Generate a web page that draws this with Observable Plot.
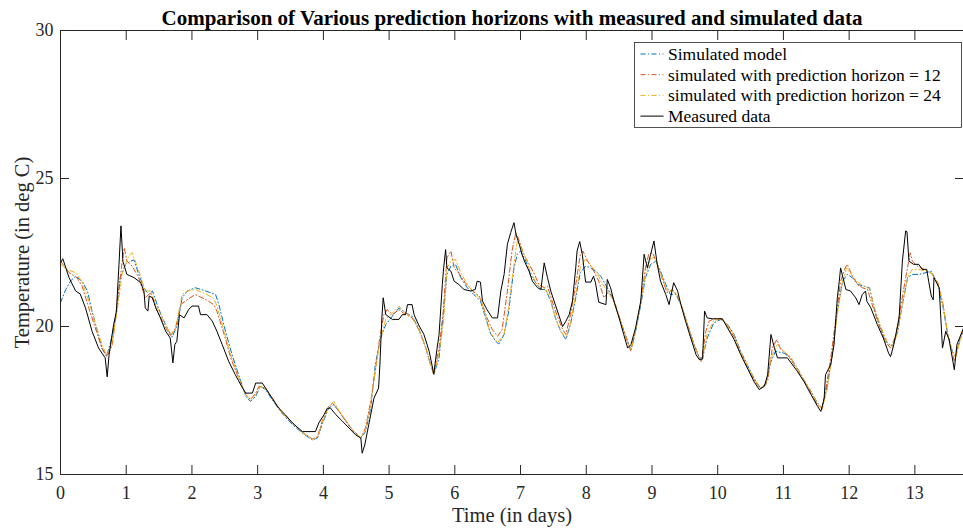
<!DOCTYPE html>
<html>
<head>
<meta charset="utf-8">
<script src="https://cdn.jsdelivr.net/npm/d3@7"></script>
<script src="https://cdn.jsdelivr.net/npm/@observablehq/plot@0.6"></script>
<style>
  html, body { margin: 0; padding: 0; background: #fff; }
  #chart { position: relative; width: 963px; height: 531px; }
</style>
</head>
<body>
<div id="chart"></div>
<script>
// Measured room temperature (deg C) against time (days)
const measuredDay = [0.00,0.035,0.13,0.23,0.30,0.38,0.48,0.58,0.68,0.71,0.74,0.81,0.85,0.89,0.92,0.95,1.01,1.12,1.22,1.27,1.29,1.33,1.35,1.40,1.45,1.52,1.60,1.67,1.71,1.74,1.77,1.81,1.88,1.95,2.00,2.10,2.13,2.23,2.31,2.38,2.46,2.56,2.66,2.77,2.82,2.92,2.97,3.07,3.12,3.22,3.32,3.42,3.53,3.68,3.88,3.93,4.01,4.06,4.11,4.19,4.29,4.39,4.49,4.57,4.59,4.63,4.69,4.77,4.84,4.86,4.89,4.91,4.95,5.05,5.15,5.20,5.25,5.28,5.35,5.38,5.45,5.53,5.61,5.68,5.73,5.76,5.81,5.83,5.86,5.88,5.94,5.99,6.06,6.14,6.24,6.31,6.34,6.39,6.42,6.49,6.57,6.65,6.70,6.75,6.80,6.85,6.90,6.93,6.98,7.03,7.08,7.13,7.18,7.26,7.31,7.36,7.41,7.46,7.51,7.58,7.64,7.69,7.74,7.79,7.84,7.86,7.90,7.94,7.99,8.07,8.11,8.14,8.19,8.30,8.32,8.37,8.42,8.50,8.57,8.63,8.68,8.75,8.83,8.88,8.93,8.98,9.03,9.08,9.13,9.21,9.26,9.33,9.39,9.44,9.51,9.59,9.67,9.72,9.77,9.80,9.84,9.92,10.07,10.15,10.25,10.35,10.45,10.55,10.63,10.71,10.76,10.81,10.86,10.91,11.06,11.21,11.31,11.42,11.52,11.57,11.62,11.64,11.72,11.77,11.82,11.85,11.87,11.95,12.02,12.10,12.15,12.20,12.25,12.27,12.33,12.43,12.52,12.60,12.63,12.68,12.76,12.81,12.86,12.88,12.91,12.98,13.06,13.11,13.18,13.21,13.25,13.28,13.29,13.37,13.42,13.47,13.52,13.57,13.60,13.64,13.74];
const measuredTemp = [22.15,22.29,21.65,21.2,21.1,20.63,19.84,19.27,18.94,18.3,19.06,20.08,20.5,22.1,23.4,22.2,21.76,21.65,21.48,21.2,20.63,20.52,21.03,20.97,20.63,20.29,19.84,19.61,18.77,19.39,19.5,20.4,20.29,20.57,20.69,20.69,20.4,20.4,20.18,19.84,19.39,18.82,18.37,17.92,17.75,17.75,18.09,18.09,17.92,17.58,17.24,17.02,16.74,16.45,16.45,16.74,17.02,17.24,17.24,17.02,16.8,16.57,16.34,16.23,15.72,16.0,16.68,17.58,17.92,18.71,20.29,20.97,20.4,20.24,20.24,20.4,20.4,20.74,20.74,20.4,20.05,19.73,19.16,18.4,19.27,19.73,21.42,21.98,22.6,21.98,21.87,21.53,21.42,21.25,21.2,21.25,21.53,21.5,20.86,20.57,20.29,20.29,21.2,21.76,22.78,23.17,23.51,23.12,22.78,22.38,22.1,21.87,21.53,21.31,21.25,22.15,21.65,21.2,20.86,20.4,20.0,20.18,20.4,20.86,21.98,22.55,22.87,22.44,21.5,21.5,21.7,21.48,20.82,20.74,21.59,21.31,20.86,20.29,19.73,19.27,19.39,19.95,20.86,22.44,21.98,22.44,22.89,22.1,21.53,21.08,20.74,21.48,21.2,20.74,20.18,19.61,19.05,18.88,18.9,20.52,20.29,20.26,20.26,19.95,19.56,19.05,18.6,18.15,17.87,17.98,18.37,19.73,19.3,18.94,18.94,18.49,18.15,17.7,17.3,17.13,17.58,18.37,18.71,19.39,20.97,21.53,21.98,21.25,21.2,20.97,20.74,21.08,21.2,20.85,20.63,20.06,19.61,19.1,18.98,19.39,20.29,22.21,23.23,23.2,22.21,22.1,22.1,21.93,21.93,21.53,21.03,20.9,21.65,21.31,19.27,19.84,19.56,18.94,18.54,19.39,19.95];

// Simulated model output
const simDay = [0,0.08,0.15,0.23,0.33,0.41,0.48,0.56,0.63,0.70,0.76,0.84,0.91,0.99,1.07,1.12,1.19,1.27,1.34,1.40,1.47,1.55,1.65,1.70,1.78,1.85,1.93,2.05,2.21,2.36,2.41,2.51,2.61,2.71,2.82,2.89,2.97,3.04,3.12,3.22,3.37,3.53,3.68,3.83,3.91,3.98,4.08,4.16,4.24,4.34,4.44,4.57,4.64,4.72,4.79,4.87,4.95,5.05,5.15,5.25,5.35,5.45,5.56,5.63,5.68,5.76,5.82,5.88,5.94,6.01,6.09,6.19,6.29,6.39,6.47,6.54,6.62,6.67,6.75,6.82,6.90,6.95,7.00,7.08,7.15,7.23,7.31,7.38,7.46,7.53,7.61,7.69,7.76,7.84,7.91,7.99,8.07,8.17,8.22,8.32,8.42,8.52,8.63,8.68,8.75,8.83,8.90,8.98,9.06,9.13,9.21,9.28,9.36,9.44,9.54,9.64,9.72,9.77,9.84,9.94,10.05,10.15,10.25,10.35,10.45,10.55,10.65,10.73,10.81,10.88,11.01,11.11,11.21,11.31,11.42,11.52,11.59,11.67,11.74,11.82,11.90,11.97,12.05,12.13,12.23,12.31,12.38,12.48,12.58,12.66,12.74,12.81,12.89,12.96,13.06,13.17,13.25,13.35,13.43,13.50,13.57,13.62,13.67,13.74];
const simTemp = [20.8,21.25,21.53,21.7,21.53,21.2,20.52,19.84,19.27,18.99,19.44,20.29,21.65,22.1,22.21,22.25,21.76,21.31,21.08,21.2,20.74,20.29,19.84,19.64,20.07,20.97,21.2,21.31,21.2,21.08,20.74,19.84,19.05,18.37,17.64,17.47,17.64,17.98,17.87,17.53,17.07,16.68,16.4,16.17,16.23,16.68,17.24,17.36,17.13,16.8,16.51,16.23,16.45,17.24,18.71,19.61,20.07,20.35,20.63,20.46,20.35,19.95,19.27,18.71,18.37,18.94,20.3,21.76,22.04,22.1,21.65,21.31,21.08,20.86,20.29,19.78,19.5,19.41,19.73,20.52,21.98,22.44,22.55,22.21,21.76,21.48,21.25,21.25,20.86,20.29,19.84,19.56,20.07,20.97,21.82,22.04,21.98,21.82,21.7,21.31,20.86,20.18,19.5,19.22,19.84,20.74,21.65,22.1,22.21,21.87,21.42,21.08,21.1,20.74,20.07,19.39,18.94,18.94,19.61,20.12,20.24,20.07,19.73,19.16,18.71,18.26,17.92,18.03,18.82,19.16,19.1,18.94,18.6,18.2,17.81,17.41,17.24,18.03,19.05,20.52,21.53,21.76,21.65,21.42,21.36,21.31,20.63,19.95,19.44,19.33,19.84,20.74,21.65,21.76,21.76,21.82,21.87,21.42,20.63,19.73,19.16,19.05,19.5,19.84];

// Simulated with prediction horizon = 12
const ph12Day = [0,0.13,0.25,0.33,0.43,0.53,0.63,0.71,0.79,0.86,0.94,0.97,1.01,1.09,1.19,1.29,1.37,1.45,1.55,1.67,1.75,1.83,1.93,2.05,2.21,2.33,2.38,2.49,2.59,2.69,2.82,2.89,2.97,3.02,3.12,3.37,3.68,3.83,3.91,3.98,4.08,4.14,4.24,4.44,4.57,4.64,4.72,4.79,4.85,4.92,4.97,5.05,5.15,5.25,5.35,5.45,5.56,5.63,5.68,5.76,5.82,5.88,5.94,5.99,6.06,6.16,6.27,6.37,6.42,6.49,6.57,6.65,6.72,6.80,6.87,6.93,6.98,7.05,7.13,7.20,7.28,7.36,7.41,7.48,7.56,7.64,7.69,7.76,7.84,7.91,7.95,8.02,8.09,8.19,8.22,8.27,8.35,8.42,8.52,8.63,8.68,8.75,8.83,8.90,8.95,9.01,9.08,9.16,9.23,9.31,9.39,9.46,9.54,9.64,9.72,9.75,9.82,9.87,9.94,10.07,10.15,10.25,10.35,10.45,10.55,10.65,10.76,10.83,10.90,10.96,11.06,11.21,11.31,11.42,11.52,11.59,11.64,11.72,11.80,11.87,11.93,11.97,12.05,12.13,12.20,12.28,12.35,12.45,12.55,12.63,12.71,12.79,12.86,12.93,12.96,13.04,13.14,13.25,13.35,13.43,13.50,13.57,13.60,13.67,13.74];
const ph12Temp = [22.21,21.82,21.65,21.36,20.63,19.95,19.27,18.99,19.39,20.74,22.21,22.66,22.21,22.04,21.65,20.97,21.14,20.63,20.18,19.67,19.95,20.74,20.91,21.08,20.91,20.74,20.52,19.73,18.94,18.37,17.7,17.53,17.75,17.98,17.92,17.1,16.43,16.2,16.28,16.8,17.3,17.41,17.13,16.51,16.23,16.57,17.47,18.49,19.5,20.4,20.57,20.4,20.57,20.4,20.3,19.9,19.27,18.72,18.4,19.27,20.4,22.32,22.55,21.98,21.8,21.48,21.2,21.03,20.74,20.29,19.9,19.67,19.9,21.2,22.55,23.17,22.89,22.44,22.1,21.82,21.42,21.31,21.36,20.86,20.35,19.9,19.73,20.4,21.42,22.44,22.55,22.21,21.98,21.53,21.31,20.97,21.2,20.91,20.2,19.45,19.16,19.84,20.86,21.98,22.44,22.49,22.1,21.59,21.14,21.25,21.03,20.63,20.07,19.39,18.94,18.82,19.84,20.18,20.26,20.26,20.0,19.65,19.1,18.65,18.2,17.9,18.15,19.27,19.56,19.22,19.05,18.55,18.18,17.75,17.35,17.2,17.81,18.94,20.29,21.53,21.93,22.1,21.7,21.42,21.31,21.25,20.74,20.07,19.5,19.27,19.7,20.74,21.65,22.49,22.21,22.04,21.93,21.8,21.48,20.74,19.73,19.1,18.82,19.39,19.95];

// Simulated with prediction horizon = 24
const ph24Day = [0,0.13,0.23,0.33,0.43,0.53,0.63,0.70,0.78,0.86,0.94,1.04,1.09,1.19,1.29,1.37,1.45,1.55,1.67,1.75,1.85,1.93,2.05,2.21,2.33,2.38,2.49,2.59,2.69,2.82,2.89,2.97,3.04,3.12,3.37,3.68,3.83,3.91,3.98,4.08,4.16,4.24,4.44,4.57,4.64,4.72,4.79,4.87,4.95,5.05,5.15,5.25,5.35,5.45,5.56,5.63,5.68,5.76,5.83,5.88,5.94,6.01,6.09,6.19,6.29,6.39,6.47,6.54,6.62,6.65,6.75,6.82,6.90,6.95,7.00,7.08,7.15,7.23,7.31,7.38,7.46,7.53,7.61,7.69,7.76,7.84,7.91,7.99,8.07,8.17,8.22,8.32,8.42,8.52,8.63,8.68,8.75,8.83,8.90,8.98,9.03,9.08,9.16,9.23,9.31,9.39,9.46,9.54,9.64,9.72,9.77,9.84,9.94,10.05,10.15,10.25,10.35,10.45,10.55,10.65,10.73,10.81,10.88,10.91,11.01,11.11,11.21,11.31,11.42,11.52,11.59,11.67,11.74,11.82,11.90,11.96,12.05,12.13,12.23,12.31,12.38,12.48,12.58,12.66,12.74,12.81,12.89,12.96,13.06,13.17,13.25,13.35,13.43,13.50,13.57,13.62,13.67,13.74];
const ph24Temp = [22.1,21.9,21.82,21.5,20.86,20.1,19.39,19.05,19.35,20.5,21.8,22.4,22.49,21.9,21.2,21.2,20.74,20.29,19.75,19.9,21.08,21.2,21.25,21.1,20.95,20.7,19.85,19.05,18.4,17.68,17.5,17.7,17.97,17.9,17.08,16.42,16.18,16.25,16.72,17.28,17.47,17.15,16.52,16.24,16.5,17.35,18.55,19.6,20.25,20.45,20.69,20.45,20.32,19.92,19.27,18.72,18.38,19.1,20.2,21.98,22.21,22.27,21.82,21.42,21.14,20.95,20.35,19.8,19.55,19.45,19.75,20.7,22.1,22.89,22.7,22.3,21.85,21.5,21.27,21.3,20.86,20.3,19.85,19.6,20.1,21.1,22.0,22.27,22.05,21.8,21.53,21.2,20.86,20.18,19.5,19.2,19.84,20.8,21.75,22.3,22.33,22.1,21.65,21.2,21.2,21.05,20.63,20.07,19.39,18.94,18.9,19.75,20.2,20.25,20.05,19.7,19.14,18.7,18.24,17.92,18.02,18.9,19.3,19.39,19.15,18.97,18.58,18.2,17.8,17.4,17.22,17.9,19.0,20.4,21.5,21.98,21.7,21.5,21.35,21.28,20.68,20.0,19.47,19.3,19.8,20.74,21.65,21.93,21.93,21.87,21.82,21.45,20.68,19.73,19.15,18.95,19.4,19.9];

// Axis ticks and text
const dayTicks = [0,1,2,3,4,5,6,7,8,9,10,11,12,13];
const tempTicks = [15,20,25,30];
const chartTitle = "Comparison of Various prediction horizons with measured and simulated data";
const xLabel = "Time (in days)";
const yLabel = "Temperature (in deg C)";
const seriesNames = ["Simulated model", "simulated with prediction horizon = 12", "simulated with prediction horizon = 24", "Measured data"];
const seriesColors = ["#0072BD", "#D95319", "#EDB120", "#000000"];

const ink = "#262626";
const serif = '"Liberation Serif", "Times New Roman", Times, serif';
const dashDot = "5,2.5,1,2.5";

const toRows = (days, temps) => days.map((day, i) => ({day, temp: temps[i]}));
const measured = toRows(measuredDay, measuredTemp);
const sim = toRows(simDay, simTemp);
const ph12 = toRows(ph12Day, ph12Temp);
const ph24 = toRows(ph24Day, ph24Temp);

const chart = Plot.plot({
  width: 963,
  height: 531,
  marginLeft: 60,
  marginRight: 0,
  marginTop: 30,
  marginBottom: 57,
  style: {fontFamily: serif, fontSize: "18px", color: ink, background: "#fff", overflow: "visible"},
  x: {domain: [0, 13.74]},
  y: {domain: [15, 30]},
  marks: [
    Plot.line(sim, {x: "day", y: "temp", stroke: seriesColors[0], strokeWidth: 1, strokeDasharray: dashDot}),
    Plot.line(ph12, {x: "day", y: "temp", stroke: seriesColors[1], strokeWidth: 1, strokeDasharray: dashDot}),
    Plot.line(ph24, {x: "day", y: "temp", stroke: seriesColors[2], strokeWidth: 1, strokeDasharray: dashDot}),
    Plot.line(measured, {x: "day", y: "temp", stroke: seriesColors[3], strokeWidth: 1}),
    // box edges (the right edge sits at the window border)
    Plot.frame({anchor: "left", stroke: ink, strokeWidth: 1}),
    Plot.frame({anchor: "top", stroke: ink, strokeWidth: 1}),
    Plot.frame({anchor: "bottom", stroke: ink, strokeWidth: 1}),
    Plot.axisX(dayTicks, {anchor: "bottom", tickSize: -9, tickPadding: 21, fontSize: 18, label: null}),
    Plot.axisX(dayTicks, {anchor: "top", tickSize: -9, tickFormat: () => "", label: null}),
    Plot.axisY(tempTicks, {anchor: "left", tickSize: -9, tickPadding: 16, fontSize: 18, label: null}),
    Plot.axisY(tempTicks, {anchor: "right", tickSize: -9, tickFormat: () => "", label: null}),
    Plot.text([chartTitle], {frameAnchor: "top", dy: -20, fontSize: 21, fontWeight: "bold", fill: "#000"}),
    Plot.text([xLabel], {frameAnchor: "bottom", dy: 47, fontSize: 20.5, fill: ink}),
    Plot.text([yLabel], {frameAnchor: "left", textAnchor: "middle", dx: -38, rotate: -90, fontSize: 20.5, fill: ink})
  ]
});

// Legend box in the upper right corner of the axes
const svg = d3.select(chart);
const legend = svg.append("g").attr("transform", "translate(634.5,42.5)").attr("text-anchor", "start");
legend.append("rect")
  .attr("width", 327).attr("height", 85)
  .attr("fill", "#fff").attr("stroke", ink).attr("stroke-width", 0.8);
seriesNames.forEach((name, i) => {
  const cy = 11.5 + i * 20.7;
  legend.append("line")
    .attr("x1", 6).attr("x2", 29).attr("y1", cy).attr("y2", cy)
    .attr("stroke", seriesColors[i]).attr("stroke-width", 1)
    .attr("stroke-dasharray", i < 3 ? dashDot : null);
  legend.append("text")
    .attr("x", 33.5).attr("y", cy).attr("dy", "0.34em")
    .attr("text-anchor", "start")
    .attr("font-family", serif).attr("font-size", 17.5).attr("fill", "#000")
    .text(name);
});

document.getElementById("chart").appendChild(chart);
</script>
</body>
</html>
